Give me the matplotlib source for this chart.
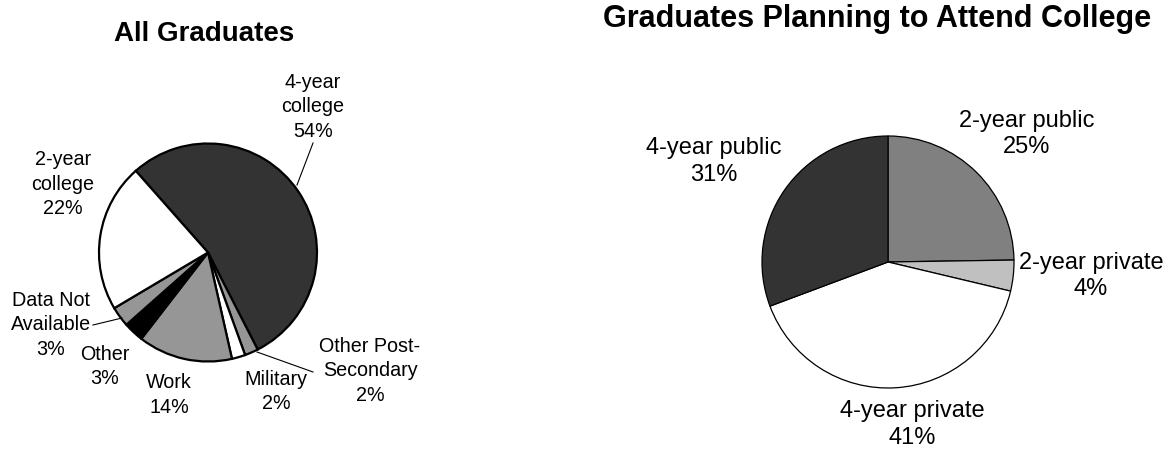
import matplotlib
matplotlib.use("Agg")
import matplotlib.pyplot as plt

plt.rcParams['font.family'] = ['Liberation Sans', 'DejaVu Sans']

# All graduates
all_labels = ['4-year\ncollege', 'Other Post-\nSecondary', 'Military', 'Work',
              'Other', 'Data Not\nAvailable', '2-year\ncollege']
all_pcts = [54, 2, 2, 14, 3, 3, 22]
all_colors = ['#333333', '#969696', '#ffffff', '#969696', '#000000', '#969696', '#ffffff']

# Graduates planning to attend college
col_labels = ['2-year public', '2-year private', '4-year private', '4-year public']
col_pcts = [25, 4, 41, 31]
col_colors = ['#808080', '#c0c0c0', '#ffffff', '#333333']

fig = plt.figure(figsize=(11.68, 4.5), dpi=100)
ax = fig.add_axes([0, 0, 1, 1])

# left pie
ax.pie(all_pcts, colors=all_colors, startangle=131.5, counterclock=False,
       center=(208, 197.5), radius=109,
       wedgeprops=dict(edgecolor='black', linewidth=1.6))

# right pie
ax.pie(col_pcts, colors=col_colors, startangle=90, counterclock=False,
       center=(888, 188), radius=126,
       wedgeprops=dict(edgecolor='black', linewidth=0.9))

# pie() resets the view, so fix the pixel-like limits afterwards
ax.set_xlim(0, 1168)
ax.set_ylim(0, 450)
ax.set_aspect('equal')
ax.axis('off')

# labels, left pie
left_pos = [(313, 343), (370, 79), (276, 58.5), (169, 55), (105, 83.5), (51, 125), (63, 266)]
for lab, p, (x, y) in zip(all_labels, all_pcts, left_pos):
    ax.text(x, y, f'{lab}\n{p}%', ha='center', va='center', fontsize=14.2,
            linespacing=1.34)

# leader lines
ax.plot([313, 297], [307, 265], color='black', linewidth=0.8)
ax.plot([93, 122], [125, 132], color='black', linewidth=0.8)
ax.plot([313, 257], [78, 98], color='black', linewidth=0.8)

# labels, right pie
right_pos = [(1027, 316), (1091, 174), (912, 25.5), (714, 288.5)]
for lab, p, (x, y) in zip(col_labels, col_pcts, right_pos):
    ax.text(x, y, f'{lab}\n{p}%', ha='center', va='center', fontsize=17,
            linespacing=1.28)

ax.text(204, 416, 'All Graduates', ha='center', va='center',
        fontsize=20, fontweight='bold')
ax.text(877, 431, 'Graduates Planning to Attend College', ha='center', va='center',
        fontsize=22, fontweight='bold')

fig.savefig('out.png', dpi=100)
